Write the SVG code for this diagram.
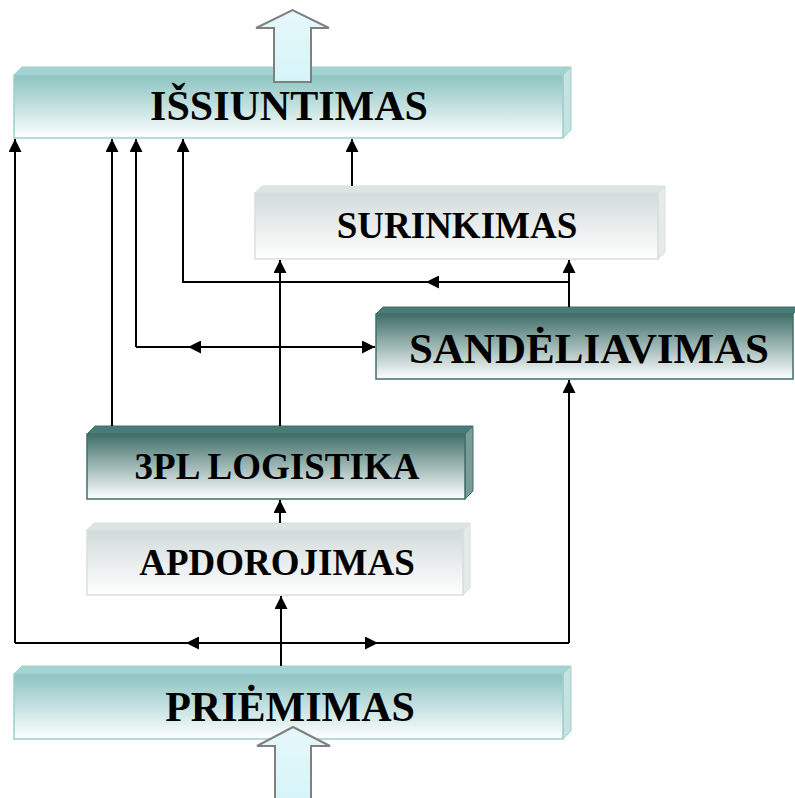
<svg xmlns="http://www.w3.org/2000/svg" width="795" height="798" viewBox="0 0 795 798">
<defs>
<linearGradient id="gTeal" x1="0" y1="0" x2="0" y2="1">
<stop offset="0" stop-color="#8cc4c1"/><stop offset="0.55" stop-color="#c9e4e3"/><stop offset="1" stop-color="#ffffff"/>
</linearGradient>
<linearGradient id="gGray" x1="0" y1="0" x2="0" y2="1">
<stop offset="0" stop-color="#d2dbda"/><stop offset="1" stop-color="#ffffff"/>
</linearGradient>
<linearGradient id="gDark" x1="0" y1="0" x2="0" y2="1">
<stop offset="0" stop-color="#3f6e69"/><stop offset="0.5" stop-color="#9fb8b5"/><stop offset="1" stop-color="#ffffff"/>
</linearGradient>
<linearGradient id="gArrow" x1="0" y1="0" x2="0" y2="1">
<stop offset="0" stop-color="#e6f8fa"/><stop offset="1" stop-color="#d6f4f8"/>
</linearGradient>
<marker id="ah" viewBox="0 0 13 13" refX="13" refY="6.5" markerWidth="13" markerHeight="13" markerUnits="userSpaceOnUse" orient="auto">
<path d="M0,0 L13,6.5 L0,13 z" fill="#000"/>
</marker>
</defs>
<style>
.lbl{font-family:"Liberation Serif","Times New Roman",serif;font-weight:bold;fill:#000;text-anchor:middle}
.teal .front{fill:url(#gTeal);stroke:#9ccfcd;stroke-width:1.5}
.teal .top{fill:#a4d3d1;stroke:#9ccfcd;stroke-width:1}
.teal .side{fill:#c6e2e1;stroke:#9ccfcd;stroke-width:1}
.gray .front{fill:url(#gGray);stroke:#d6dfde;stroke-width:1.5}
.gray .top{fill:#dde4e3;stroke:#d6dfde;stroke-width:1}
.gray .side{fill:#e6ebea;stroke:#d6dfde;stroke-width:1}
.dark .front{fill:url(#gDark);stroke:#3f6f6a;stroke-width:1.5}
.dark .top{fill:#4a7b76;stroke:#3f6f6a;stroke-width:1}
.dark .side{fill:#7c9a96;stroke:#3f6f6a;stroke-width:1}
.con path{fill:none;stroke:#000;stroke-width:2}
.big{fill:url(#gArrow);stroke:#808080;stroke-width:2}
</style>

<g id="issiuntimas" class="teal">
<polygon class="top" points="14,75 22,67 571,67 563,75"/>
<polygon class="side" points="563,75 571,67 571,130 563,138"/>
<rect class="front" x="14" y="75" width="549" height="63"/>
<text class="lbl" x="289" y="120" font-size="42">IŠSIUNTIMAS</text>
</g>

<g id="surinkimas" class="gray">
<polygon class="top" points="255,193 262,186 665,186 658,193"/>
<polygon class="side" points="658,193 665,186 665,252 658,259"/>
<rect class="front" x="255" y="193" width="403" height="66"/>
<text class="lbl" x="457" y="238" font-size="37">SURINKIMAS</text>
</g>

<g id="sandeliavimas" class="dark">
<polygon class="top" points="376,314 383,307 800,307 793,314"/>
<rect class="front" x="376" y="314" width="417" height="65"/>
<text class="lbl" x="589" y="363" font-size="43">SANDĖLIAVIMAS</text>
</g>

<g id="logistika" class="dark">
<polygon class="top" points="87,434 95,426 473,426 465,434"/>
<polygon class="side" points="465,434 473,426 473,491 465,499"/>
<rect class="front" x="87" y="434" width="378" height="65"/>
<text class="lbl" x="277" y="479" font-size="37">3PL LOGISTIKA</text>
</g>

<g id="apdorojimas" class="gray">
<polygon class="top" points="87,530 94,523 470,523 463,530"/>
<polygon class="side" points="463,530 470,523 470,588 463,595"/>
<rect class="front" x="87" y="530" width="376" height="65"/>
<text class="lbl" x="277" y="575" font-size="37">APDOROJIMAS</text>
</g>

<g id="priemimas" class="teal">
<polygon class="top" points="14,674 22,666 571,666 563,674"/>
<polygon class="side" points="563,674 571,666 571,731 563,739"/>
<rect class="front" x="14" y="674" width="549" height="65"/>
<text class="lbl" x="290" y="721" font-size="42">PRIĖMIMAS</text>
</g>

<g id="connectors" class="con">
<path d="M15,643 V139" marker-end="url(#ah)"/>
<path d="M15,643 H569"/>
<path d="M201,643 H186" marker-end="url(#ah)"/>
<path d="M363,643 H378" marker-end="url(#ah)"/>
<path d="M569,643 V380" marker-end="url(#ah)"/>
<path d="M281,666 V596" marker-end="url(#ah)"/>
<path d="M280,523 V500" marker-end="url(#ah)"/>
<path d="M112,426 V139" marker-end="url(#ah)"/>
<path d="M280,426 V260" marker-end="url(#ah)"/>
<path d="M136,347 H375" marker-end="url(#ah)"/>
<path d="M136,347 V139" marker-end="url(#ah)"/>
<path d="M203,347 H188" marker-end="url(#ah)"/>
<path d="M569,307 V260" marker-end="url(#ah)"/>
<path d="M569,282 H183 V139" marker-end="url(#ah)"/>
<path d="M441,282 H426" marker-end="url(#ah)"/>
<path d="M352,186 V139" marker-end="url(#ah)"/>
</g>

<g id="arrow-out">
<polygon class="big" points="274,82 274,28 256,28 292.5,10 329,28 311,28 311,82"/>
</g>
<g id="arrow-in">
<polygon class="big" points="275,800 275,746 257,746 293,727 330,746 311,746 311,800"/>
</g>
</svg>
